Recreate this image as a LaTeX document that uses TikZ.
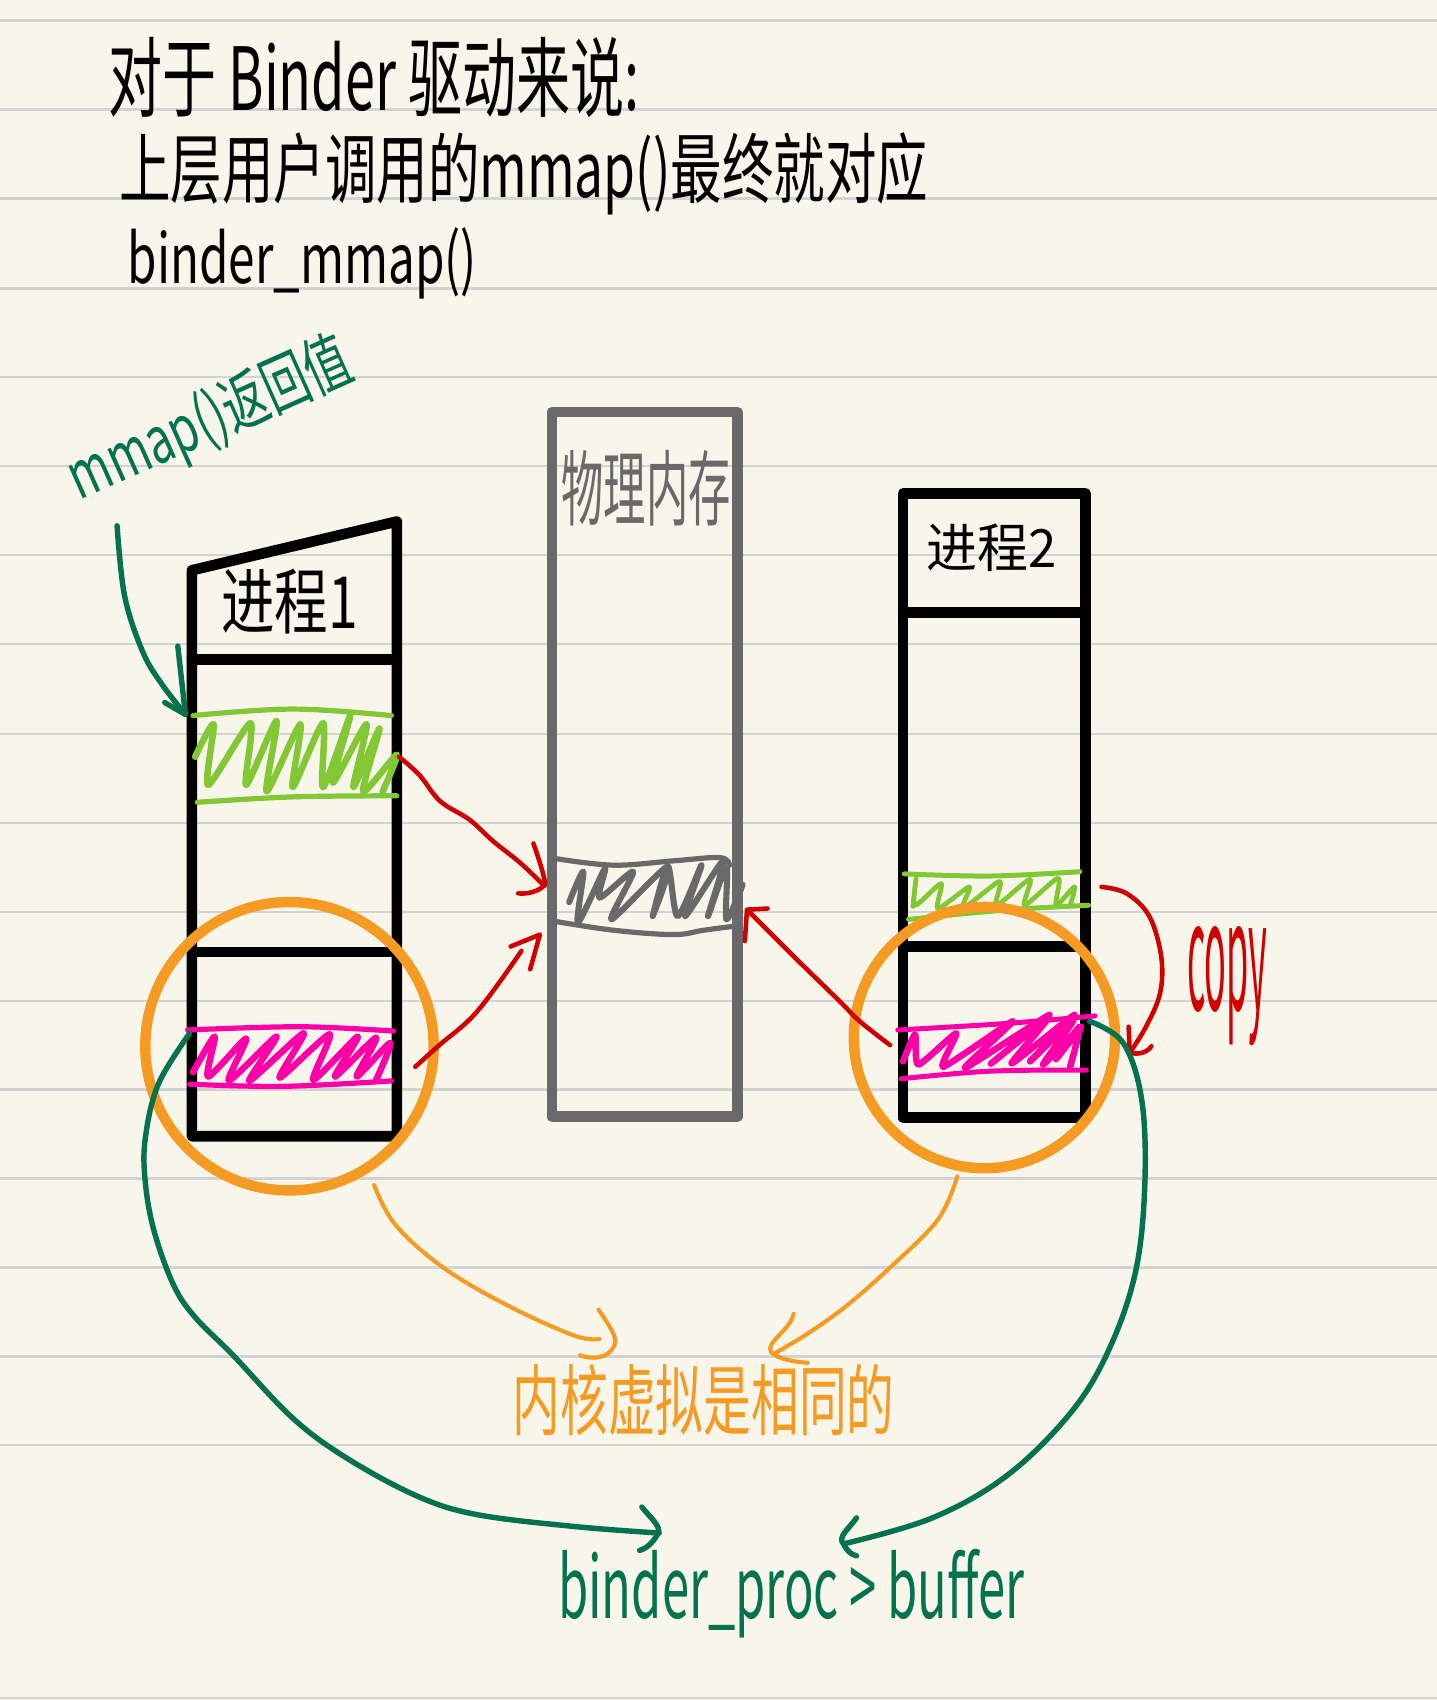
\documentclass[tikz,border=0pt]{standalone}
\usepackage{fontspec}
\setmainfont{Noto Sans CJK SC}
\usetikzlibrary{calc}
\definecolor{paper}{HTML}{F8F6EA}
\definecolor{rulegrey}{HTML}{D2D3D3}
\definecolor{pengreen}{HTML}{04714F}
\definecolor{lime}{HTML}{82C734}
\definecolor{hotpink}{HTML}{FF00A8}
\definecolor{amber}{HTML}{F59A23}
\definecolor{penred}{HTML}{D00000}
\definecolor{boxgrey}{HTML}{696969}
\newcommand{\fittext}[3]{\resizebox*{#1pt}{#2pt}{#3}}
\tikzset{
  ruled/.style={rulegrey,line width=1.1pt},
  boxline/.style={line width=4.9pt,line join=round,line cap=round},
  penline/.style={line cap=round,line join=round},
  greenpen/.style={penline,pengreen,line width=2.5pt},
  redpen/.style={penline,penred,line width=2.1pt},
  amberpen/.style={penline,amber,line width=1.9pt},
  amberring/.style={amber,line width=4.8pt},
  limepen/.style={penline,lime,line width=3pt},
  pinkpen/.style={penline,hotpink,line width=3pt},
  greypen/.style={penline,boxgrey,line width=2.8pt},
  label/.style={inner sep=0pt,outer sep=0pt,anchor=center},
  curve/.style={smooth,tension=0.6}
}
\begin{document}
\begin{tikzpicture}[x=0.5pt,y=-0.5pt]
\useasboundingbox (0,0) rectangle (1325,1568);
\fill[paper] (0,0) rectangle (1325,1568);
% ruled paper
\foreach \yy in {19,101,183,266,348,430,512,594,677,759,841,923,1005,1087,1169,1251,1333,1566}
  \draw[ruled] (0,\yy) -- (1325,\yy);

% title
\node[label] (title1) at (345,71) {\fittext{245}{37}{对于 Binder 驱动来说:}};
\node[label] (title2) at (483,160) {\fittext{373}{38}{上层用户调用的mmap()最终就对应}};
\node[label] (title3) at (279,243) {\fittext{161}{33}{binder\_mmap()}};

% process 1
\draw[boxline] (177,526) -- (366,481) -- (366,1048) -- (177,1048) -- cycle;
\draw[boxline] (177,608) -- (366,608);
\draw[boxline] (177,878) -- (366,878);
\node[label] (proc1) at (267,555) {\fittext{63}{30}{进程1}};

% physical memory
\draw[boxline,boxgrey] (509,380) rectangle (680,1030);
\node[label,text=boxgrey] (phys) at (596,450) {\fittext{78}{35}{物理内存}};

% process 2
\draw[boxline] (833,455) rectangle (1001,1031);
\draw[boxline] (833,565) -- (1001,565);
\draw[boxline] (833,873) -- (1001,873);
\node[label] (proc2) at (915,505) {\fittext{60}{22}{进程2}};

% lime scribble, process 1
\draw[limepen,line width=2.4pt] plot[curve] coordinates {(178,660)(270,654)(361,660)};
\draw[limepen,line width=2.4pt] plot[curve] coordinates {(182,740)(270,735)(366,734)};
\draw[limepen] plot[curve,tension=0.45] coordinates {(180,698)(197,668)(192,724)(231,667)(227,724)(255,665)(246,730)(277,668)(270,726)(298,667)(298,726)(323,660)(307,722)(338,668)(326,726)(350,672)(335,730)(366,696)(353,730)};

% pink scribble, process 1
\draw[pinkpen,line width=2.4pt] plot[curve] coordinates {(173,950)(277,947)(363,951)};
\draw[pinkpen,line width=2.4pt] plot[curve] coordinates {(175,1000)(261,1002)(361,997)};
\draw[pinkpen] plot[curve,tension=0.45] coordinates {(178,989)(198,956)(192,993)(227,958)(211,997)(255,956)(230,997)(280,953)(258,994)(304,954)(289,996)(330,956)(309,993)(347,957)(329,993)(360,962)(347,996)};

% grey scribble
\draw[greypen,line width=2.4pt] plot[curve] coordinates {(513,792)(566,798)(621,794)(664,791)(673,798)};
\draw[greypen,line width=2.4pt] plot[curve] coordinates {(513,850)(566,858)(621,862)(649,858)(679,854)};
\draw[greypen] plot[curve,tension=0.45] coordinates {(525,832)(538,804)(533,851)(558,801)(553,828)(584,804)(564,848)(616,799)(602,845)(616,799)(625,845)(647,798)(632,845)(667,794)(653,845)(670,800)(670,848)(685,816)};

% lime scribble, process 2
\draw[limepen,line width=2.3pt] plot[curve] coordinates {(834,806)(913,808)(996,804)};
\draw[limepen,line width=2.3pt] plot[curve] coordinates {(838,848)(897,842)(947,838)(1004,835)};
\draw[limepen,line width=2.2pt] plot[curve,tension=0.45] coordinates {(842,836)(845,810)(844,835)(868,815)(865,838)(894,818)(888,838)(922,813)(919,835)(950,811)(945,835)(976,810)(974,835)(991,818)(987,835)};

% pink scribble, process 2
\draw[pinkpen,line width=2.3pt] plot[curve] coordinates {(828,950)(928,944)(1010,937)};
\draw[pinkpen,line width=2.3pt] plot[curve] coordinates {(831,995)(913,988)(1002,987)};
\draw[pinkpen] plot[curve,tension=0.35] coordinates {(833,979)(844,954)(847,982)(882,953)(870,984)(934,942)(890,985)(968,936)(914,981)(965,941)(933,981)(991,936)(950,979)(990,941)(962,982)(997,947)(974,977)(996,947)(987,984)};

% orange rings
\node[circle,draw,amberring,minimum size=133pt,inner sep=0pt] (ring1) at (267,965) {};
\node[circle,draw,amberring,minimum size=120.5pt,inner sep=0pt] (ring2) at (908,957) {};

% red arrows
\draw[redpen] plot[curve] coordinates {(368,698)(387,715)(406,739)(433,756)(455,776)(480,796)(501,816)};
\draw[redpen] (492,778) .. controls (498,795) and (502,808) .. (503,816) .. controls (497,822) and (487,825) .. (478,824);
\draw[redpen] plot[curve] coordinates {(383,984)(404,965)(440,933)(481,877)};
\draw[redpen] (471,873) -- (498,862) -- (489,894);
\draw[redpen] plot[curve] coordinates {(821,964)(793,942)(775,924)(735,885)(710,860)(690,840)};
\draw[redpen] (687,868) -- (689,839) -- (708,838);
\draw[redpen] plot[curve] coordinates {(1016,818)(1039,824)(1060,845)(1071,882)(1070,916)(1057,947)(1042,971)};
\draw[redpen] (1041,947) -- (1042,971) .. controls (1050,973) and (1058,971) .. (1062,965);
\node[label,text=penred] (copy) at (1132,910) {\fittext{37}{55}{copy}};

% amber arrows and label
\draw[amberpen] plot[curve] coordinates {(345,1093)(365,1130)(410,1170)(470,1205)(530,1232)(553,1235)};
\draw[amberpen] (552,1208) .. controls (562,1222) and (570,1235) .. (567,1240) .. controls (562,1254) and (545,1254) .. (535,1250);
\draw[amberpen] plot[curve] coordinates {(883,1085)(865,1125)(820,1170)(780,1205)(745,1230)(715,1248)};
\draw[amberpen] (732,1212) .. controls (728,1228) and (706,1238) .. (711,1247) .. controls (718,1254) and (733,1256) .. (745,1257);
\node[label,text=amber] (same) at (649,1291) {\fittext{176}{33}{内核虚拟是相同的}};

% green arrows and labels
\node[label,text=pengreen,rotate=24] (ret) at (194,388) {\fittext{140}{32}{mmap()返回值}};
\draw[greenpen] plot[curve] coordinates {(108,485)(115,550)(132,602)(150,632)(171,659)};
\draw[greenpen] (164,596) -- (171,659) -- (152,648);
\draw[greenpen] plot[curve] coordinates {(175,953)(146,1000)(134,1050)(134,1090)(142,1135)(160,1185)(180,1215)(215,1250)(270,1308)(320,1345)(385,1380)(440,1397)(530,1408)(608,1414)};
\draw[greenpen] (592,1390) .. controls (600,1400) and (610,1408) .. (607,1414) .. controls (603,1422) and (597,1428) .. (590,1430);
\draw[greenpen] plot[curve] coordinates {(1005,942)(1036,962)(1053,1014)(1056,1090)(1048,1170)(1025,1240)(990,1300)(930,1360)(860,1400)(778,1424)};
\draw[greenpen] (790,1400) .. controls (783,1410) and (772,1418) .. (778,1424) .. controls (781,1430) and (785,1434) .. (790,1435);
\node[label,text=pengreen] (bufname) at (730,1470) {\fittext{215}{41}{binder\_proc > buffer}};
\end{tikzpicture}
\end{document}
